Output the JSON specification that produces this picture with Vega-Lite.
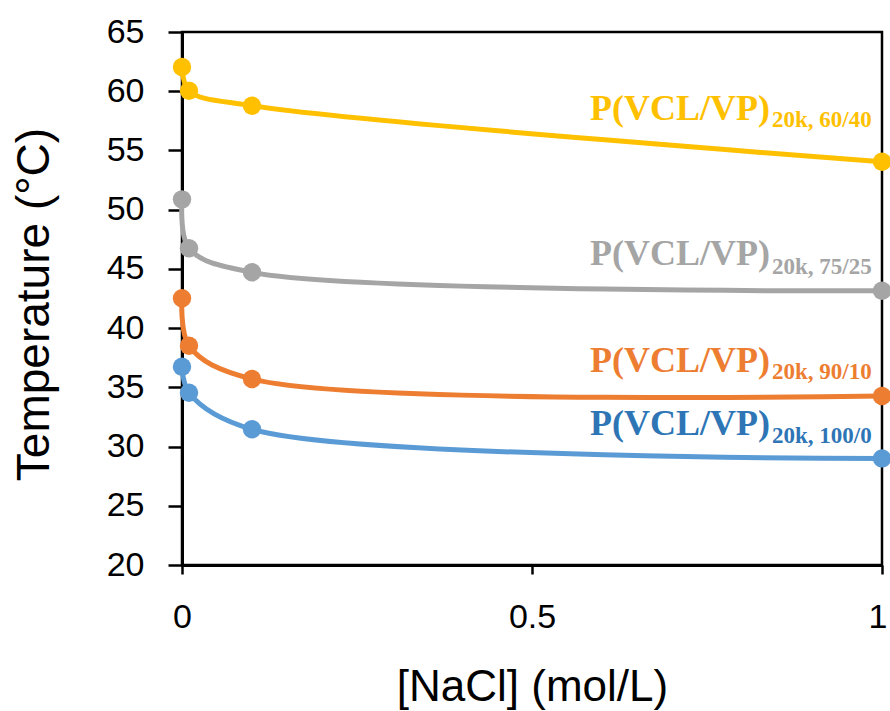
{
  "$schema": "https://vega.github.io/schema/vega-lite/v6.json",
  "width": 700,
  "height": 533,
  "autosize": {"type": "none"},
  "padding": {"left": 182, "top": 32, "right": 8, "bottom": 146},
  "background": "white",
  "config": {
    "view": {"stroke": "black", "strokeWidth": 2.5},
    "axis": {
      "grid": false,
      "domainColor": "black",
      "domainWidth": 3,
      "tickColor": "black",
      "tickWidth": 2.5,
      "labelFont": "Liberation Sans",
      "labelFontSize": 34,
      "labelColor": "black",
      "titleFont": "Liberation Sans",
      "titleFontWeight": "normal",
      "titleColor": "black",
      "titleBaseline": "alphabetic"
    }
  },
  "datasets": {
    "points": [
      {"series": "100/0", "x": 0, "y": 36.74},
      {"series": "100/0", "x": 0.01, "y": 34.55},
      {"series": "100/0", "x": 0.1, "y": 31.46},
      {"series": "100/0", "x": 1, "y": 29.0},
      {"series": "90/10", "x": 0, "y": 42.52},
      {"series": "90/10", "x": 0.01, "y": 38.51},
      {"series": "90/10", "x": 0.1, "y": 35.7},
      {"series": "90/10", "x": 1, "y": 34.27},
      {"series": "75/25", "x": 0, "y": 50.87},
      {"series": "75/25", "x": 0.01, "y": 46.74},
      {"series": "75/25", "x": 0.1, "y": 44.71},
      {"series": "75/25", "x": 1, "y": 43.15},
      {"series": "60/40", "x": 0, "y": 62.04},
      {"series": "60/40", "x": 0.01, "y": 60.04},
      {"series": "60/40", "x": 0.1, "y": 58.78},
      {"series": "60/40", "x": 1, "y": 54.05}
    ],
    "labels": [
      {"series": "100/0", "x": 0.84, "main": "P(VCL/VP)", "yMain": 30.97, "sub": "20k, 100/0", "ySub": 30.27},
      {"series": "90/10", "x": 0.84, "main": "P(VCL/VP)", "yMain": 36.32, "sub": "20k, 90/10", "ySub": 35.68},
      {"series": "75/25", "x": 0.84, "main": "P(VCL/VP)", "yMain": 45.29, "sub": "20k, 75/25", "ySub": 44.57},
      {"series": "60/40", "x": 0.84, "main": "P(VCL/VP)", "yMain": 57.57, "sub": "20k, 60/40", "ySub": 56.94}
    ]
  },
  "resolve": {"scale": {"color": "independent"}},
  "layer": [
    {
      "data": {"name": "points"},
      "mark": {"type": "line", "interpolate": "catmull-rom", "strokeWidth": 5},
      "encoding": {
        "x": {
          "field": "x", "type": "quantitative",
          "scale": {"domain": [0, 1], "nice": false},
          "axis": {
            "values": [0, 0.5, 1], "format": "~g", "tickSize": 9, "labelPadding": 26,
            "labelFlush": false, "labelFontSize": 34,
            "labelAlign": {"condition": {"test": "datum.value === 1", "value": "right"}, "value": "center"},
            "labelOffset": {"condition": {"test": "datum.value === 1", "value": 5}, "value": 0},
            "title": "[NaCl] (mol/L)", "titleFontSize": 44, "titlePadding": 66
          }
        },
        "y": {
          "field": "y", "type": "quantitative",
          "scale": {"domain": [20, 65], "nice": false, "zero": false},
          "axis": {
            "values": [20, 25, 30, 35, 40, 45, 50, 55, 60, 65], "tickSize": 14, "labelPadding": 24,
            "title": "Temperature (°C)", "titleFontSize": 46, "titlePadding": 58, "titleY": 272
          }
        },
        "color": {
          "field": "series", "type": "nominal", "legend": null,
          "scale": {"domain": ["100/0", "90/10", "75/25", "60/40"], "range": ["#5B9BD5", "#ED7D31", "#A5A5A5", "#FFC000"]}
        },
        "detail": {"field": "series"}
      }
    },
    {
      "data": {"name": "points"},
      "mark": {"type": "circle", "size": 340, "opacity": 1},
      "encoding": {
        "x": {"field": "x", "type": "quantitative"},
        "y": {"field": "y", "type": "quantitative"},
        "color": {
          "field": "series", "type": "nominal", "legend": null,
          "scale": {"domain": ["100/0", "90/10", "75/25", "60/40"], "range": ["#5B9BD5", "#ED7D31", "#A5A5A5", "#FFC000"]}
        }
      }
    },
    {
      "data": {"name": "labels"},
      "mark": {"type": "text", "font": "Liberation Serif", "fontWeight": "bold", "fontSize": 36, "align": "right", "baseline": "alphabetic"},
      "encoding": {
        "x": {"field": "x", "type": "quantitative"},
        "y": {"field": "yMain", "type": "quantitative"},
        "text": {"field": "main"},
        "color": {
          "field": "series", "type": "nominal", "legend": null,
          "scale": {"domain": ["100/0", "90/10", "75/25", "60/40"], "range": ["#2E75B6", "#ED7D31", "#A5A5A5", "#FFC000"]}
        }
      }
    },
    {
      "data": {"name": "labels"},
      "mark": {"type": "text", "font": "Liberation Serif", "fontWeight": "bold", "fontSize": 23, "align": "left", "baseline": "alphabetic", "dx": 2},
      "encoding": {
        "x": {"field": "x", "type": "quantitative"},
        "y": {"field": "ySub", "type": "quantitative"},
        "text": {"field": "sub"},
        "color": {
          "field": "series", "type": "nominal", "legend": null,
          "scale": {"domain": ["100/0", "90/10", "75/25", "60/40"], "range": ["#2E75B6", "#ED7D31", "#A5A5A5", "#FFC000"]}
        }
      }
    }
  ]
}
